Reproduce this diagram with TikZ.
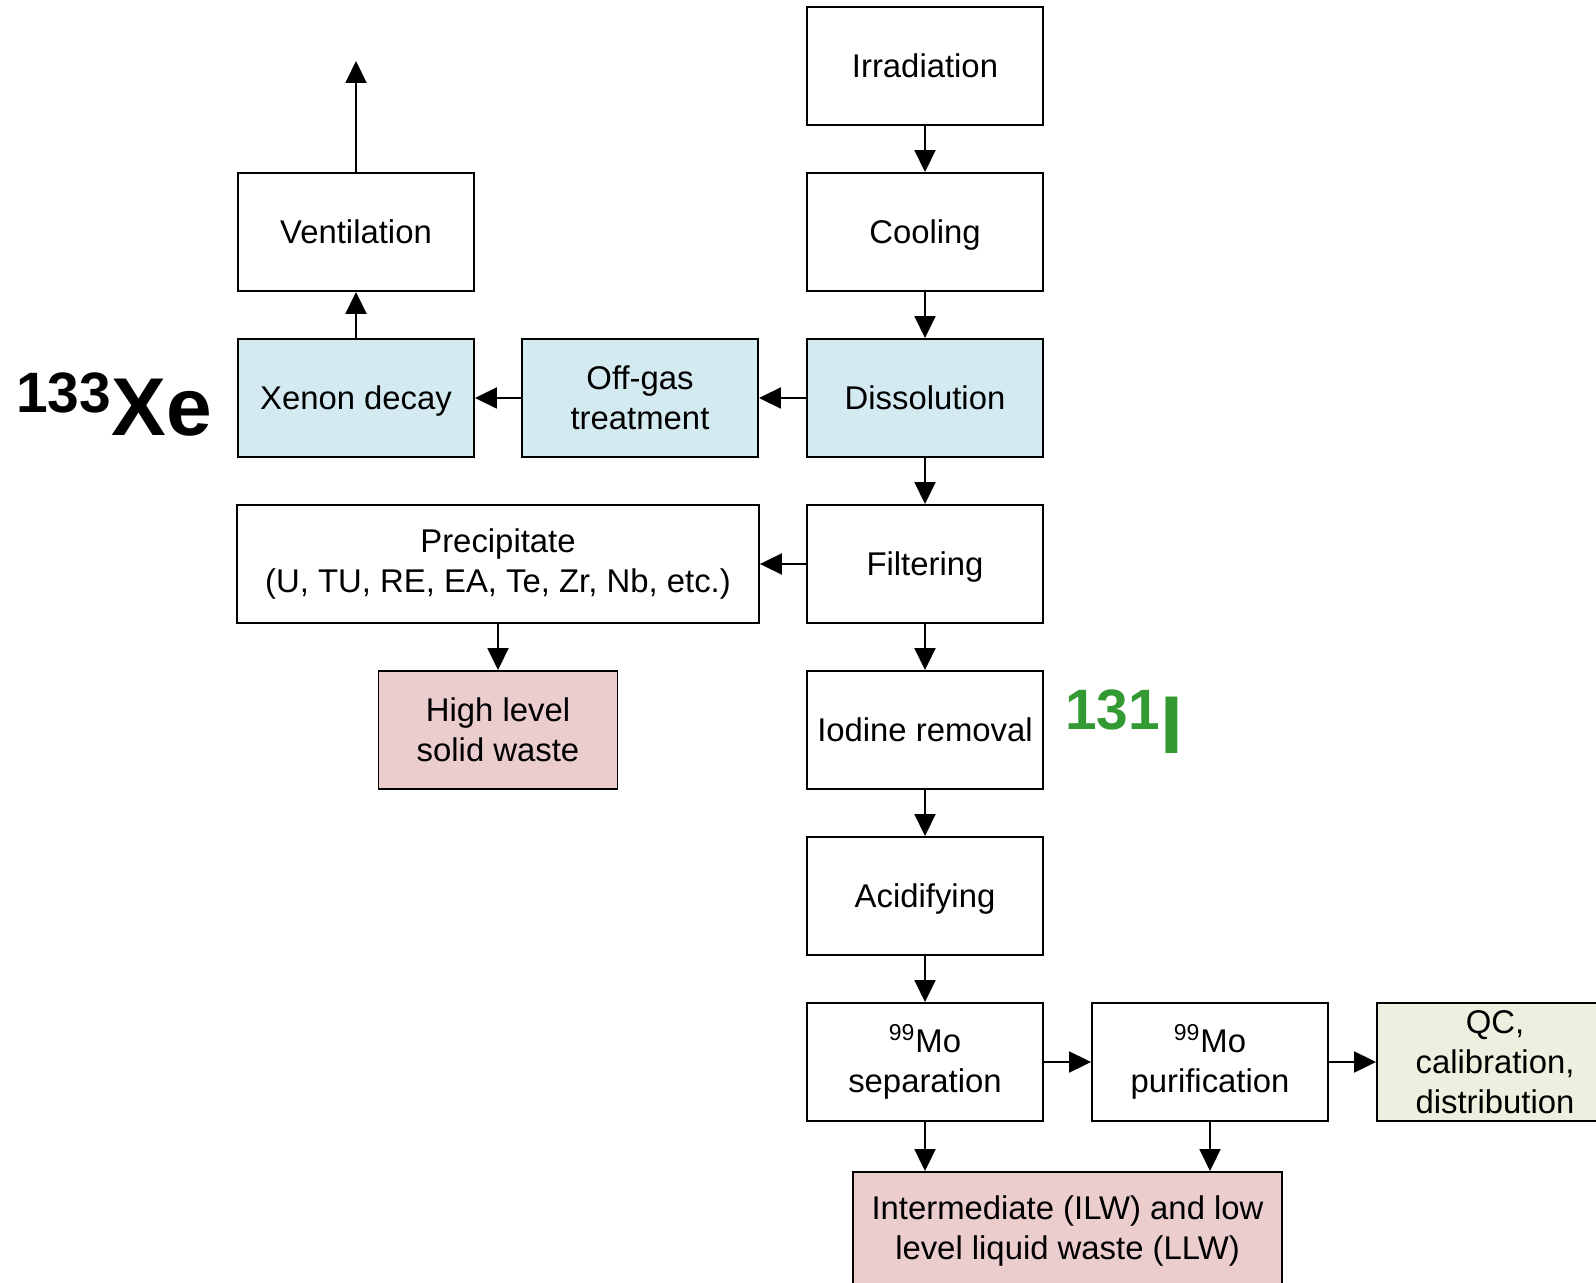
\documentclass[tikz,border=0pt]{standalone}
\usepackage{fontspec}
\setmainfont{Liberation Sans}
\usetikzlibrary{arrows.meta}
\definecolor{dissblue}{RGB}{211,234,240}
\definecolor{wastepink}{RGB}{235,205,205}
\definecolor{qcgreen}{RGB}{235,241,222}
\definecolor{iodgreen}{RGB}{51,153,51}
\begin{document}
\begin{tikzpicture}[x=0.02cm,y=-0.02cm,
    box/.style={draw,line width=1.1pt,minimum width=4.72cm,minimum height=2.36cm,
      inner sep=0pt,align=center,font=\fontsize{18.7}{22.9}\selectfont},
    flat/.style={text height=13.65pt,text depth=0pt},
    isotope/.style={anchor=base,font=\fontsize{46.7}{50}\selectfont\bfseries},
    tip/.style={-{Triangle[length=0.44cm,width=0.42cm]},line width=1.1pt}]
      \useasboundingbox (0,0) rectangle (1596,1283);
      \draw
        (925,66) node[box,flat] (irr){Irradiation}
        (925,232) node[box,flat] (cool){Cooling}
        (925,398) node[box,flat,fill=dissblue] (diss){Dissolution}
        (925,564) node[box,flat] (filt){Filtering}
        (925,730) node[box,flat] (iod){Iodine removal}
        (925,896) node[box,flat] (acid){Acidifying}
        (925,1062) node[box] (mosep){\textsuperscript{99}Mo\\separation}
        (1210,1062) node[box] (mopur){\textsuperscript{99}Mo\\purification}
        (1495,1062) node[box,fill=qcgreen] (qc){QC,\\calibration,\\distribution}
        (1067.5,1231) node[box,fill=wastepink,minimum width=8.58cm] (ilw){Intermediate (ILW) and low\\level liquid waste (LLW)}
        (640,398) node[box,fill=dissblue] (offgas){Off-gas\\treatment}
        (356,398) node[box,flat,fill=dissblue] (xen){Xenon decay}
        (356,232) node[box,flat] (vent){Ventilation}
        (498,564) node[box,minimum width=10.44cm] (prec){Precipitate\\(U, TU, RE, EA, Te, Zr, Nb, etc.)}
        (498,730) node[box,fill=wastepink,minimum width=4.78cm] (hlw){High level\\solid waste};
      \coordinate (out) at (356,61);
      \node[isotope] (xe) at (114,436)
        {\raisebox{13.3pt}{\fontsize{32.4}{36}\selectfont 133}Xe};
      \node[isotope,text=iodgreen] (iodlab) at (1124,753)
        {\raisebox{13.3pt}{\fontsize{32.4}{36}\selectfont 131}I};
      \begin{scope}[tip]
        \draw (irr) to (cool);
        \draw (cool) to (diss);
        \draw (diss) to (filt);
        \draw (filt) to (iod);
        \draw (iod) to (acid);
        \draw (acid) to (mosep);
        \draw (mosep) to (mopur);
        \draw (mopur) to (qc);
        \draw (mosep.south) to (mosep.south |- ilw.north);
        \draw (mopur.south) to (mopur.south |- ilw.north);
        \draw (diss) to (offgas);
        \draw (offgas) to (xen);
        \draw (xen) to (vent);
        \draw (vent) to (out);
        \draw (filt) to (prec);
        \draw (prec) to (hlw);
      \end{scope}
    \end{tikzpicture}
\end{document}
